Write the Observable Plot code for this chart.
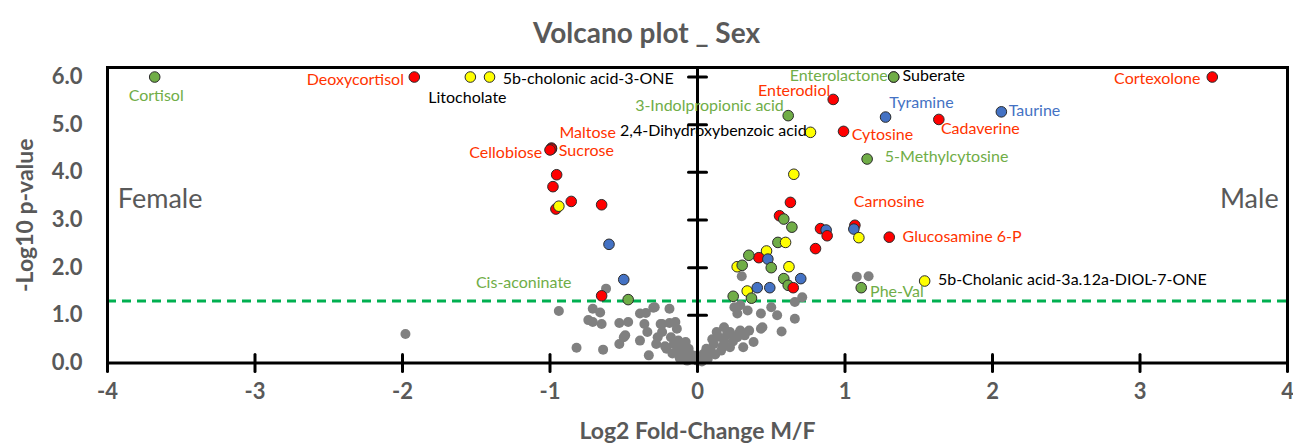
<!DOCTYPE html>
<html>
<head>
<meta charset="utf-8">
<script src="https://cdn.jsdelivr.net/npm/d3@7"></script>
<script src="https://cdn.jsdelivr.net/npm/@observablehq/plot@0.6"></script>
<style>
  html, body { margin: 0; padding: 0; background: #fff; }
  #title { width: 1293px; height: 55px; box-sizing: border-box; padding-top: 16px; text-align: center;
    font: bold 28px Lato, "Open Sans", sans-serif; line-height: 32px; color: #595959; }
  svg { overflow: visible; }
</style>
</head>
<body>
<div id="title">Volcano plot _ Sex</div>
<div id="chart"></div>
<script>
// ---- data ----
const xTicks = [-4, -3, -2, -1, 0, 1, 2, 3, 4];
const yTicks = [0, 1, 2, 3, 4, 5, 6];
const threshold = 1.301; // -log10(0.05)

// non-significant metabolites (grey)
const greyX = [-1.98, -0.94, -0.71, -0.66, -0.74, -0.71, -0.65, -0.53, -0.47, -0.62, -0.39, -0.35, -0.29, -0.19, -0.36, -0.34, -0.24, -0.19, -0.15, -0.24, -0.14, -0.49, -0.53, -0.82, -0.64, -0.39, -0.28, -0.33, -0.18, -0.16, -0.13, -0.08, -0.21, -0.14, -0.09, -0.05, -0.03, 0.00, -0.30, -0.25, -0.50, -0.27, -0.22, -0.12, -0.10, -0.06, -0.17, -0.02, -0.12, -0.07,
  0.30, 0.71, 0.66, 0.66, 0.57, 0.50, 0.54, 0.43, 0.43, 0.38, 0.31, 0.25, 0.29, 0.34, 0.27, 0.18, 0.13, 0.22, 0.29, 0.35, 0.25, 0.18, 0.11, 0.09, 0.04, 0.01, 0.16, 0.22, 0.07, 0.27, 1.08, 1.16, 0.44, 0.14, 0.20, 0.24, 0.17, 0.06, 0.12, 0.03, 0.10, 0.28, 0.32];
const greyY = [0.61, 1.09, 1.14, 1.06, 0.90, 0.86, 0.82, 0.84, 0.86, 1.56, 1.04, 1.05, 1.17, 1.14, 0.82, 0.65, 0.82, 0.84, 0.86, 0.65, 0.72, 0.58, 0.40, 0.32, 0.28, 0.47, 0.40, 0.16, 0.54, 0.40, 0.47, 0.44, 0.30, 0.26, 0.26, 0.19, 0.09, 0.05, 1.16, 0.82, 0.54, 0.54, 0.35, 0.35, 0.15, 0.30, 0.20, 0.15, 0.10, 0.05,
  1.82, 1.38, 1.28, 0.93, 0.66, 1.17, 1.00, 1.04, 0.72, 0.44, 0.33, 1.17, 1.21, 1.10, 1.04, 0.75, 0.65, 0.65, 0.68, 0.68, 0.54, 0.47, 0.40, 0.26, 0.19, 0.09, 0.26, 0.33, 0.09, 0.54, 1.81, 1.82, 0.75, 0.55, 0.60, 0.45, 0.35, 0.30, 0.18, 0.03, 0.50, 0.62, 0.58];

// significant metabolites: name, log2FC, -log10 p, class (r/g/b/y)
const sigName = ["Cortisol", "Deoxycortisol", "Litocholate", "5b-cholonic acid-3-ONE", "Maltose", "Sucrose", "Cellobiose", "", "", "", "", "", "", "", "", "", "Cis-aconinate",
  "Suberate", "Enterolactone", "Cortexolone", "Enterodiol", "3-Indolpropionic acid", "Tyramine", "Cadaverine", "Taurine", "2,4-Dihydroxybenzoic acid", "Cytosine", "5-Methylcytosine",
  "", "", "", "", "", "", "", "", "", "Carnosine", "", "", "Glucosamine 6-P", "", "", "", "", "", "", "", "", "", "", "", "", "", "", "", "", "", "", "", "Phe-Val", "5b-Cholanic acid-3a.12a-DIOL-7-ONE"];
const sigX = [-3.68, -1.92, -1.54, -1.41, -0.99, -0.99, -1.00, -0.955, -0.98, -0.96, -0.94, -0.856, -0.65, -0.60, -0.50, -0.65, -0.47,
  1.33, 1.33, 3.49, 0.92, 0.615, 1.275, 1.636, 2.06, 0.766, 0.99, 1.15,
  0.653, 0.63, 0.556, 0.585, 0.64, 0.834, 0.872, 0.879, 0.80, 1.067, 1.06, 1.094, 1.30, 0.545, 0.597, 0.468, 0.416, 0.477, 0.50, 0.348, 0.269, 0.303, 0.62, 0.585, 0.70, 0.615, 0.649, 0.337, 0.405, 0.49, 0.242, 0.366, 1.11, 1.54];
const sigY = [6.0, 6.0, 6.0, 6.0, 4.51, 4.49, 4.47, 3.95, 3.70, 3.23, 3.29, 3.39, 3.32, 2.49, 1.75, 1.41, 1.33,
  6.0, 6.0, 6.0, 5.53, 5.19, 5.16, 5.11, 5.27, 4.84, 4.86, 4.28,
  3.96, 3.37, 3.09, 3.02, 2.85, 2.82, 2.79, 2.67, 2.40, 2.89, 2.81, 2.63, 2.64, 2.53, 2.53, 2.35, 2.21, 2.18, 2.00, 2.26, 2.02, 2.05, 2.02, 1.77, 1.77, 1.63, 1.58, 1.51, 1.58, 1.58, 1.40, 1.36, 1.58, 1.72];
const sigClass = ["g", "r", "y", "y", "r", "r", "r", "r", "r", "r", "y", "r", "r", "b", "b", "r", "g",
  "y", "g", "r", "r", "g", "b", "r", "b", "y", "r", "g",
  "y", "r", "r", "g", "g", "r", "b", "r", "r", "r", "b", "y", "r", "g", "y", "y", "r", "b", "g", "g", "y", "g", "y", "g", "b", "g", "r", "y", "b", "b", "g", "g", "g", "y"];

// label placement (text position in data units) for named metabolites
const labelName = ["Cortisol", "Deoxycortisol", "Litocholate", "5b-cholonic acid-3-ONE", "Maltose", "Sucrose", "Cellobiose", "Cis-aconinate",
  "Enterolactone", "Suberate", "Cortexolone", "Enterodiol", "3-Indolpropionic acid", "Tyramine", "Cadaverine", "Taurine", "2,4-Dihydroxybenzoic acid", "Cytosine", "5-Methylcytosine",
  "Carnosine", "Glucosamine 6-P", "Phe-Val", "5b-Cholanic acid-3a.12a-DIOL-7-ONE"];
const labelX = [-3.67, -1.99, -1.56, -1.32, -0.936, -0.94, -1.053, -0.854,
  1.29, 1.39, 3.41, 0.90, 0.585, 1.30, 1.65, 2.11, 0.74, 1.045, 1.27,
  1.06, 1.39, 1.17, 1.63];
const labelY = [5.60, 5.95, 5.57, 5.96, 4.82, 4.46, 4.40, 1.68,
  6.03, 6.03, 5.96, 5.70, 5.40, 5.46, 4.91, 5.28, 4.86, 4.79, 4.33,
  3.39, 2.64, 1.49, 1.75];
const labelAlign = ["middle", "end", "middle", "start", "start", "start", "end", "end",
  "end", "start", "end", "end", "end", "start", "start", "start", "end", "start", "start",
  "start", "start", "start", "start"];

const sideText = ["Female", "Male"];
const sideX = [-3.93, 3.94];
const sideY = [3.44, 3.44];
const sideAlign = ["start", "end"];

// ---- build ----
const fillOf = {r: "#FF0000", g: "#70AD47", b: "#4472C4", y: "#FFFF00"};
const textOf = {r: "#FF3300", g: "#70AD47", b: "#4472C4", y: "#000000"};
const grey = greyX.map((x, i) => ({x, y: greyY[i]}));
const sig = sigX.map((x, i) => ({name: sigName[i], x, y: sigY[i], c: sigClass[i]}));
const classByName = new Map(sig.filter(d => d.name).map(d => [d.name, d.c]));
const labels = labelName.map((name, i) => ({name, x: labelX[i], y: labelY[i], anchor: labelAlign[i], c: classByName.get(name)}));
const sides = sideText.map((t, i) => ({t, x: sideX[i], y: sideY[i], anchor: sideAlign[i]}));
const yMid = (0 + 6.2) / 2;

const font = "Lato, 'Open Sans', sans-serif";
const lineShape = {draw(context, l) { context.moveTo(0, 0); context.lineTo(0, -l); }};

const chart = Plot.plot({
  width: 1293,
  height: 388,
  marginTop: 12,
  marginBottom: 80.5,
  marginLeft: 107,
  marginRight: 6,
  style: {fontFamily: font, background: "#fff"},
  x: {domain: [-4, 4]},
  y: {domain: [0, 6.2]},
  marks: [
    Plot.ruleY([threshold], {stroke: "#00B050", strokeWidth: 3, strokeDasharray: "9,6"}),
    Plot.dot(grey, {x: "x", y: "y", r: 5, fill: "#808080", stroke: "none"}),
    Plot.dot(sig, {x: "x", y: "y", r: 5.3, fill: d => fillOf[d.c], stroke: "#2b2b2b", strokeWidth: 1}),
    Plot.ruleX([0], {stroke: "black", strokeWidth: 3}),
    Plot.frame({stroke: "black", strokeWidth: 3}),
    Plot.vector(yTicks.filter(d => d > 0), {x: 0, y: d => d, length: 18, rotate: 90, anchor: "middle", shape: lineShape, stroke: "black", strokeWidth: 3}),
    Plot.vector(xTicks, {x: d => d, y: 0, length: 17, rotate: 0, anchor: "middle", shape: lineShape, stroke: "black", strokeWidth: 3}),
    Plot.axisX(xTicks, {tickSize: 0, tickPadding: 20, tickFormat: d => String(d), fontSize: 22, fontWeight: "bold", fill: "#595959", label: null}),
    Plot.axisY(yTicks, {tickSize: 0, tickPadding: 25, tickFormat: d => d.toFixed(1), fontSize: 22, fontWeight: "bold", fill: "#595959", label: null}),
    Plot.text(["Log2 Fold-Change M/F"], {frameAnchor: "bottom", dy: 76, fontSize: 23, fontWeight: "bold", fill: "#595959"}),
    Plot.text([{t: "-Log10 p-value", y: yMid}], {y: "y", text: "t", frameAnchor: "left", dx: -82, rotate: -90, textAnchor: "middle", fontSize: 23, fontWeight: "bold", fill: "#595959"}),
    Plot.text(sides, {x: "x", y: "y", text: "t", textAnchor: "start", filter: d => d.anchor === "start", fontSize: 27, fill: "#595959"}),
    Plot.text(sides, {x: "x", y: "y", text: "t", textAnchor: "end", filter: d => d.anchor === "end", fontSize: 27, fill: "#595959"}),
    ...["start", "middle", "end"].map(a =>
      Plot.text(labels.filter(d => d.anchor === a), {x: "x", y: "y", text: "name", textAnchor: a, fontSize: 16, fill: d => textOf[d.c]}))
  ]
});
document.getElementById("chart").appendChild(chart);
</script>
</body>
</html>
